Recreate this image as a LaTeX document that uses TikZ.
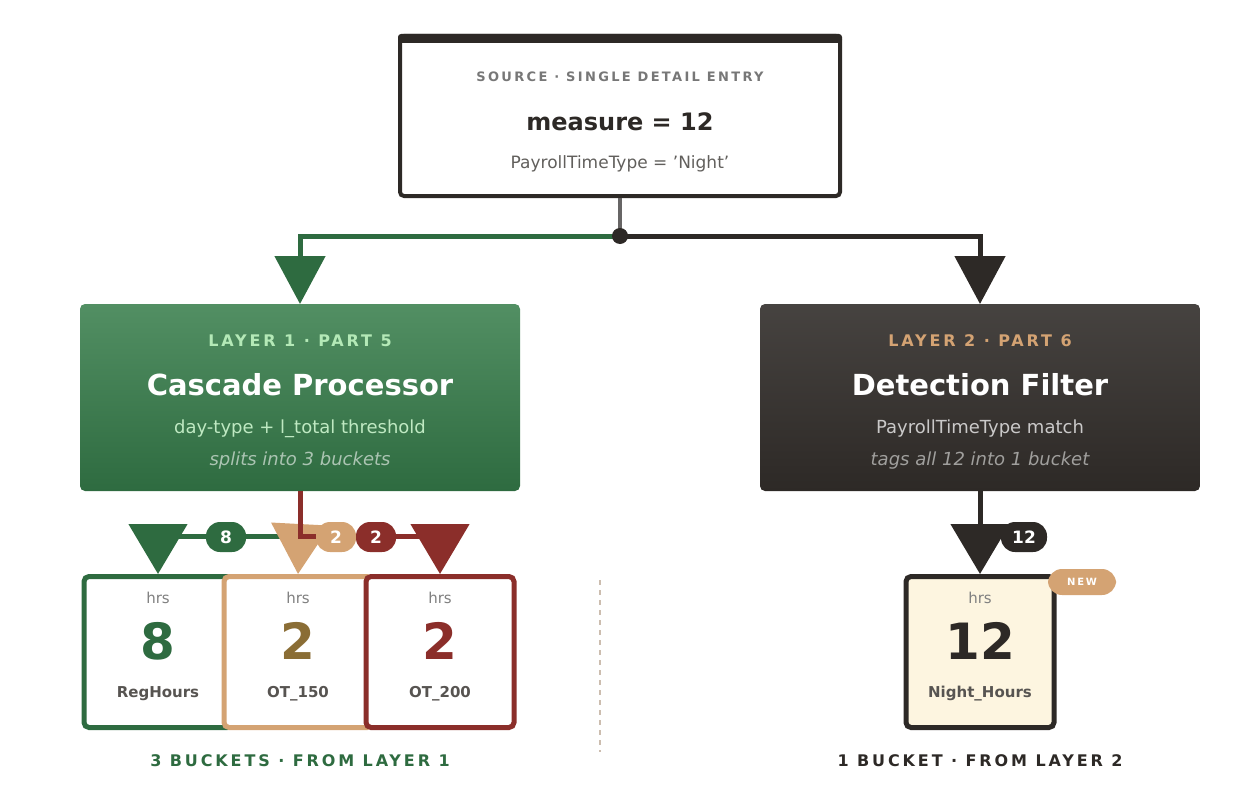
\documentclass[tikz,border=0pt]{standalone}
\usepackage{fontspec}
\setmainfont{DejaVu Sans}
\newfontfamily\spaced{DejaVu Sans}[LetterSpace=18]
\usetikzlibrary{arrows.meta}
\definecolor{ink}{HTML}{2D2926}
\definecolor{grn}{HTML}{2E6B40}
\definecolor{grnlt}{HTML}{528F63}
\definecolor{tan}{HTML}{D4A373}
\definecolor{red}{HTML}{8B2E2A}
\definecolor{olive}{HTML}{8A6D35}
\definecolor{cream}{HTML}{FDF5E0}
\tikzset{
  fs/.style={font=\fontsize{#1}{#1}\selectfont},
  card/.style={draw=#1, line width=5pt, rounded corners=5pt, fill=white,
    minimum width=148pt, minimum height=151pt, inner sep=0pt},
  big/.style={line width=5pt, -{Triangle[width=58pt,length=50pt]}},
  pill/.style={fill=#1, text=white, rounded corners=14pt, minimum width=40pt,
    minimum height=30pt, inner sep=0pt, font=\bfseries\fontsize{17}{17}\selectfont},
}
\begin{document}
\begin{tikzpicture}[x=1pt,y=-1pt]
\useasboundingbox (0,0) rectangle (1240,800);
% source
\node (src) [draw=ink, line width=4pt, rounded corners=4pt, minimum width=440pt,
  minimum height=160pt] at (620,116) {};
\fill [ink, rounded corners=3pt] (398,34) rectangle (842,43);
\node (srct) [fs=13, text=gray!90!ink] at (620,77) {\bfseries\spaced SOURCE · SINGLE DETAIL ENTRY};
\node (srcm) [fs=24, text=ink] at (620,122) {\bfseries measure = 12};
\node (srcs) [fs=17, text=ink!75] at (620,164) {PayrollTimeType = 'Night'};
% split
\coordinate (fork) at (620,236);
\coordinate (left) at (300,236);
\coordinate (right) at (980,236);
\draw [gray!70!ink, line width=4pt] (src.south) -- (fork);
\draw [grn, line width=5pt, -{Triangle[width=50pt,length=48pt]}] (fork) -- (left) -- (300,304);
\draw [ink, line width=5pt, -{Triangle[width=50pt,length=48pt]}] (fork) -- (right) -- (980,304);
\fill [ink] (fork) circle (8pt);
% layer boxes
\shade [top color=grnlt, bottom color=grn, rounded corners=5pt] (80,304) rectangle (520,491);
\shade [top color=ink!88!white, bottom color=ink, rounded corners=5pt] (760,304) rectangle (1200,491);
\node (l1) at (300,397) {};
\node (l2) at (980,397) {};
\node [fs=16, text=green!20!white!85!grn] at (300,341) {\bfseries\spaced LAYER 1 · PART 5};
\node [fs=29, text=white] at (300,385) {\bfseries Cascade Processor};
\node [fs=18, text=green!15!white!85!grn] at (300,429) {day-type + l\_total threshold};
\node [fs=18, text=white!60!grn] at (300,461) {\itshape splits into 3 buckets};
\node [fs=16, text=tan] at (980,341) {\bfseries\spaced LAYER 2 · PART 6};
\node [fs=29, text=white] at (980,385) {\bfseries Detection Filter};
\node [fs=18, text=white!75!ink] at (980,429) {PayrollTimeType match};
\node [fs=18, text=white!55!ink] at (980,461) {\itshape tags all 12 into 1 bucket};
% buckets
\node (reg) [card=grn] at (158,652) {};
\node (ot15) [card=tan] at (298,652) {};
\node (ot20) [card=red] at (440,652) {};
\node (night) [card=ink, fill=cream] at (980,652) {};
\foreach \n/\t/\v/\c in {reg/RegHours/8/grn, ot15/OT\_150/2/olive, ot20/OT\_200/2/red, night/Night\_Hours/12/ink}{
  \node [fs=15, text=ink!80] at ([yshift=-42pt]\n.center) {\bfseries \t};
  \node [fs=50, text=\c] at ([yshift=11pt]\n.center) {\bfseries \v};
  \node [fs=15, text=gray] at ([yshift=54pt]\n.center) {hrs};
}
% bucket connectors
\coordinate (hub) at (300,536);
\draw [grn, big] (hub) -- (158,536) -- (reg.north);
\draw [tan, big] (hub) -- (ot15.north);
\draw [red, big] (l1 |- 491,491) -- (hub) -- (440,536) -- (ot20.north);
\draw [ink, big] (l2 |- 491,491) -- (night.north);
\node [pill=grn] at (226,537) {8};
\node [pill=tan] at (336,537) {2};
\node [pill=red] at (376,537) {2};
\node [pill=ink, minimum width=46pt] at (1024,537) {12};
\node [pill=tan, minimum width=68pt, minimum height=26pt, fs=14, font=\bfseries] at (1082,582) {\spaced NEW};
% divider and captions
\draw [tan!50!gray!60, line width=1.5pt, dash pattern=on 5pt off 5pt] (600,580) -- (600,752);
\node [fs=16, text=grn] at (300,761) {\bfseries\spaced 3 BUCKETS · FROM LAYER 1};
\node [fs=16, text=ink] at (980,761) {\bfseries\spaced 1 BUCKET · FROM LAYER 2};
\end{tikzpicture}
\end{document}
